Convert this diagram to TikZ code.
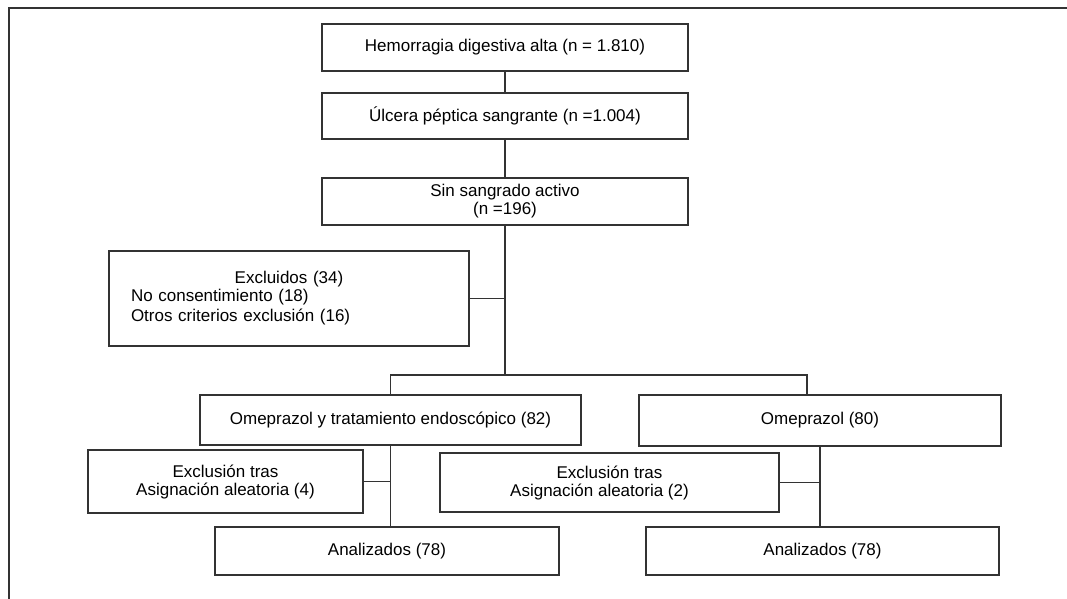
\documentclass[tikz,border=0pt]{standalone}
\usepackage{fontspec}
\setmainfont{Liberation Sans}
\usepackage{tikz}
\usetikzlibrary{positioning,calc}
\tikzstyle{block}=[draw=black!80,line width=1.3pt,rectangle,inner sep=0pt,align=center,font=\fontsize{17}{18}\selectfont]
\tikzstyle{link}=[draw=black!80,line width=1.3pt]
\begin{document}
\begin{tikzpicture}[x=1pt,y=-1pt]
\useasboundingbox (0,0) rectangle (1067,599);
\draw[black!80,line width=1.6pt] (9,599) -- (9,8) -- (1067,8);
\node [block,minimum width=366pt,minimum height=47pt] (hda) at (505,47.5) {Hemorragia digestiva alta (n = 1.810)};
\node [block,minimum width=366pt,minimum height=46pt] (ulc) at (505,116) {Úlcera péptica sangrante (n =1.004)};
\node [block,minimum width=366pt,minimum height=47pt] (sin) at (505,201.5) {Sin sangrado activo\\(n =196)};
\node [block,minimum width=360pt,minimum height=95pt,text width=316pt,inner xsep=22pt,align=left] (excl) at (289,298.5)
  {\hfill Excluidos (34)\hfill\null\\ No consentimiento (18)\\[2pt] Otros criterios exclusión (16)\\[6pt]};
\node [block,minimum width=381pt,minimum height=50pt] (omeend) at (390.5,420) {Omeprazol y tratamiento endoscópico (82)};
\node [block,minimum width=362pt,minimum height=51pt] (ome) at (820,420.5) {Omeprazol (80)};
\node [block,minimum width=275pt,minimum height=63pt] (exl) at (225.5,481.5) {Exclusión tras\\Asignación aleatoria (4)};
\node [block,minimum width=339pt,minimum height=59pt] (exr) at (609.5,482.5) {Exclusión tras\\Asignación aleatoria (2)\hspace*{20pt}};
\node [block,minimum width=344pt,minimum height=48pt] (anl) at (387,551) {Analizados (78)};
\node [block,minimum width=353pt,minimum height=48pt] (anr) at (822.5,551) {Analizados (78)};
\coordinate (fork) at (505,375);
\draw[link] (hda.south) -- (ulc.north);
\draw[link] (ulc.south) -- (sin.north);
\draw[link] (sin.south) -- (fork);
\draw[link] (excl.east) -- (excl.east -| fork);
\draw[link] (omeend.north) |- (fork) -| ([xshift=-13pt]ome.north);
\draw[link] (omeend.south) -- (omeend.south |- anl.north);
\draw[link] (exl.east) -- (exl.east -| omeend.south);
\draw[link] (ome.south) -- (ome.south |- anr.north);
\draw[link] (exr.east) -- (exr.east -| ome.south);
\end{tikzpicture}
\end{document}
